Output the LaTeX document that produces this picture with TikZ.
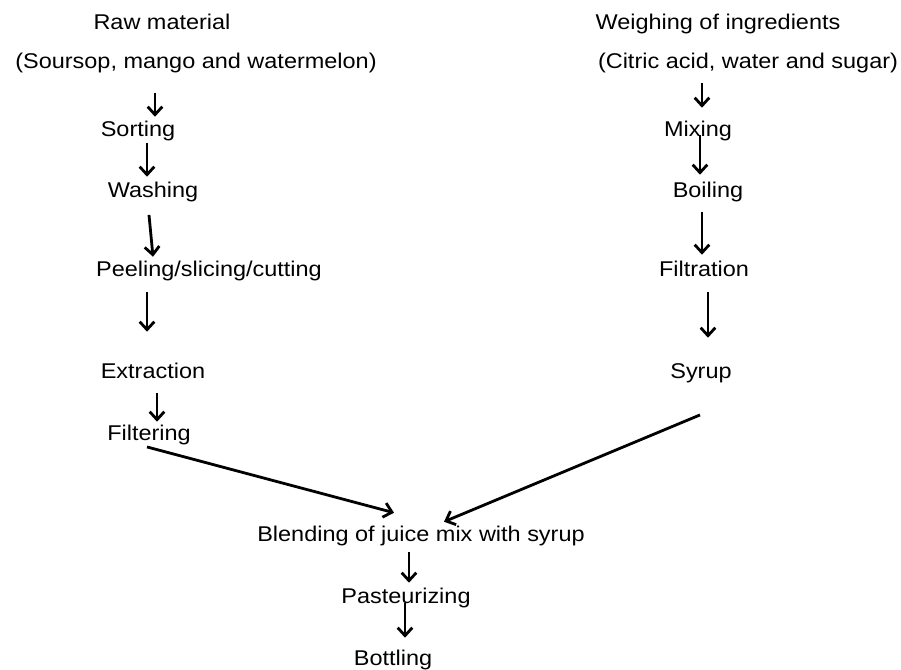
\documentclass[tikz,border=0pt]{standalone}
\usepackage{fontspec}
\setmainfont{Liberation Sans}[FakeStretch=1.1]
\usepackage{tikz}
\usetikzlibrary{
  positioning,
  calc,
  arrows.meta
}
\tikzstyle{flow}=[-{Straight Barb[length=6pt,width=11pt]}, line width=2.1pt]
\tikzstyle{stage}=[anchor=base, inner sep=0pt, text height=12pt, text depth=3.5pt, font=\fontsize{16}{19}\selectfont]

\begin{document}
\begin{tikzpicture}[x=0.75pt, y=-0.75pt]
  \useasboundingbox (0,0) rectangle (901,669);

  % 果実の工程
  \node[stage] (raw) at (162,29) {Raw material};
  \node[stage] (fruit) at (196,68) {(Soursop, mango and watermelon)};
  \node[stage] (sorting) at (138,136) {Sorting};
  \node[stage] (washing) at (153,197) {Washing};
  \node[stage] (peeling) at (209,276) {Peeling/slicing/cutting};
  \node[stage] (extraction) at (153,378) {Extraction};
  \node[stage] (filtering) at (149,440) {Filtering};

  % シロップの工程
  \node[stage] (weighing) at (718,29) {Weighing of ingredients};
  \node[stage] (ingred) at (748,68) {(Citric acid, water and sugar)};
  \node[stage] (mixing) at (698,136) {Mixing};
  \node[stage] (boiling) at (708,197) {Boiling};
  \node[stage] (filtration) at (704,276) {Filtration};
  \node[stage] (syrup) at (701,378) {Syrup};

  % 合流後
  \node[stage] (blending) at (421,541) {Blending of juice mix with syrup};
  \node[stage] (pasteur) at (406,603) {Pasteurizing};
  \node[stage] (bottling) at (393,665) {Bottling};

  % 左の矢印
  \draw[flow] ($(fruit.south)+(-41,20)$) -- ($(sorting.north)+(17,-3)$);
  \draw[flow] ($(sorting.south)+(9,2)$) -- ($(washing.north)+(-6,-4)$);
  \draw[flow] ($(washing.south)+(-4,13)$) -- ($(peeling.north)+(-56,-3)$);
  \draw[flow] ($(peeling.south)+(-62,11)$) -- ($(extraction.north)+(-6,-30)$);
  \draw[flow] ($(extraction.south)+(4,10)$) -- ($(filtering.north)+(8,-2)$);

  % 右の矢印
  \draw[flow] ($(ingred.south)+(-46,10)$) -- ($(mixing.north)+(4,-12)$);
  \draw[flow] ($(mixing.south)+(2,-6)$) -- ($(boiling.north)+(-8,-6)$);
  \draw[flow] ($(boiling.south)+(-6,10)$) -- ($(filtration.north)+(-2,-5)$);
  \draw[flow] ($(filtration.south)+(4,11)$) -- ($(syrup.north)+(7,-24)$);

  % 合流する矢印
  \draw[flow] ($(filtering.south)+(-2,2)$) -- ($(blending.north)+(-27,-12)$);
  \draw[flow] ($(syrup.south)+(-1,32)$) -- ($(blending.north)+(23,-3)$);

  % 下の矢印
  \draw[flow] ($(blending.south)+(-12,6)$) -- ($(pasteur.north)+(3,-4)$);
  \draw[flow] ($(pasteur.south)+(-1,-5)$) -- ($(bottling.north)+(12,-11)$);
\end{tikzpicture}
\end{document}
